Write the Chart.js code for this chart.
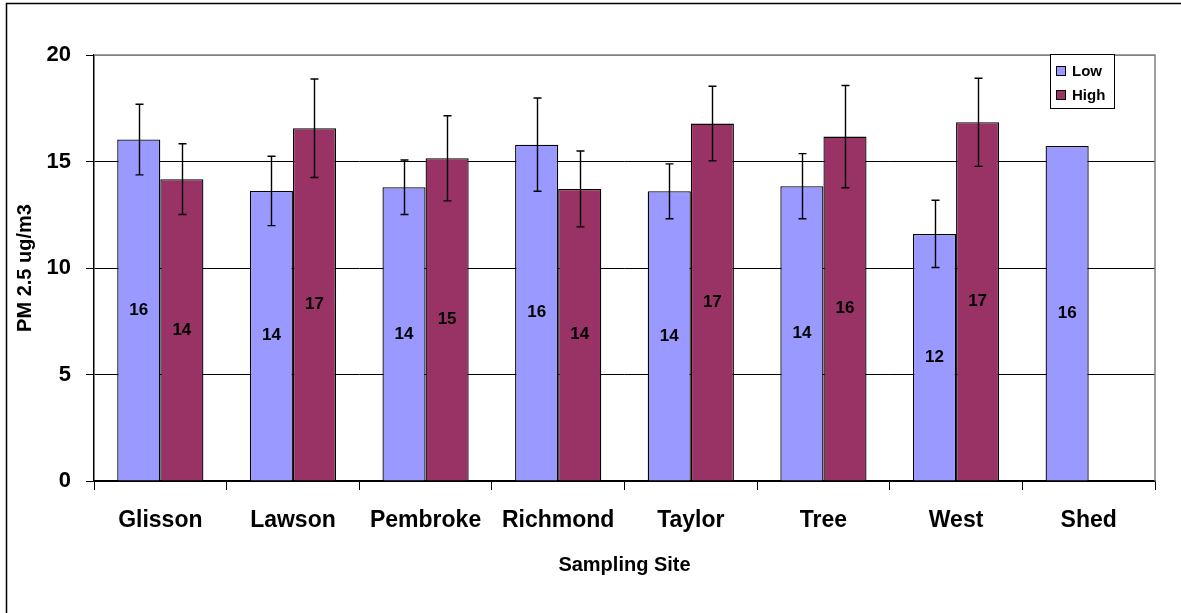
<!DOCTYPE html>
<html lang="en">
<head>
  <meta charset="UTF-8" />
  <title>PM 2.5 by Sampling Site</title>
  <script src="https://cdn.jsdelivr.net/npm/chart.js"></script>
  <style>
    html, body { margin: 0; padding: 0; background: #fff; }
    #wrap { position: relative; width: 1181px; height: 613px; }
  </style>
</head>
<body>
<div id="wrap"><canvas id="pmChart" width="1181" height="613"></canvas></div>

<script>
  const sites = ['Glisson', 'Lawson', 'Pembroke', 'Richmond', 'Taylor', 'Tree', 'West', 'Shed'];
  const lowValues  = [16.03, 13.62, 13.79, 15.79, 13.60, 13.84, 11.60, 15.73];
  const highValues = [14.17, 16.56, 15.15, 13.71, 16.78, 16.17, 16.84, null];
  const lowErrors  = [1.66, 1.63, 1.28, 2.19, 1.29, 1.53, 1.58, null];
  const highErrors = [1.66, 2.31, 2.00, 1.78, 1.75, 2.40, 2.07, null];
  const yTicks = [0, 5, 10, 15, 20];

  const FONT = "'Liberation Sans', Arial, sans-serif";
  const errorSets = [lowErrors, highErrors];

  // outer frame, grey plot outline
  const framePlugin = {
    id: 'frame',
    beforeDraw(chart) {
      const ctx = chart.ctx;
      ctx.save();
      ctx.fillStyle = '#fff';
      ctx.fillRect(0, 0, chart.width, chart.height);
      ctx.strokeStyle = '#000';
      ctx.lineWidth = 1.5;
      ctx.beginPath();
      ctx.moveTo(6.5, chart.height);
      ctx.lineTo(6.5, 3.5);
      ctx.lineTo(chart.width, 3.5);
      ctx.stroke();
      ctx.restore();
    },
    beforeDatasetsDraw(chart) {
      const {ctx, chartArea: a} = chart;
      ctx.save();
      ctx.strokeStyle = '#808080';
      ctx.lineWidth = 1.5;
      ctx.beginPath();
      ctx.moveTo(a.left, a.top);
      ctx.lineTo(a.right, a.top);
      ctx.lineTo(a.right, a.bottom);
      ctx.stroke();
      ctx.restore();
    }
  };

  // error bars + centred value labels + boxed legend
  const extrasPlugin = {
    id: 'extras',
    afterDatasetsDraw(chart) {
      const ctx = chart.ctx;
      const y = chart.scales.y;
      ctx.save();
      chart.data.datasets.forEach((ds, di) => {
        const meta = chart.getDatasetMeta(di);
        meta.data.forEach((bar, i) => {
          const v = ds.data[i];
          if (v == null) return;
          ctx.fillStyle = '#000';
          ctx.font = 'bold 17px ' + FONT;
          ctx.textAlign = 'center';
          ctx.textBaseline = 'middle';
          ctx.fillText(String(Math.round(v)), bar.x, (bar.y + bar.base) / 2);
        });
      });
      chart.data.datasets.forEach((ds, di) => {
        const meta = chart.getDatasetMeta(di);
        const errs = errorSets[di];
        meta.data.forEach((bar, i) => {
          const v = ds.data[i];
          const e = errs[i];
          if (v == null || e == null) return;
          const yt = y.getPixelForValue(v + e);
          const yb = y.getPixelForValue(v - e);
          const x = Math.round(bar.x) + 0.5;
          ctx.strokeStyle = '#000';
          ctx.lineWidth = 1.4;
          ctx.beginPath();
          ctx.moveTo(x, yt); ctx.lineTo(x, yb);
          ctx.moveTo(x - 4, yt); ctx.lineTo(x + 4, yt);
          ctx.moveTo(x - 4, yb); ctx.lineTo(x + 4, yb);
          ctx.stroke();
        });
      });
      ctx.restore();
    },
    afterDraw(chart) {
      const ctx = chart.ctx;
      const bx = 1050.5, by = 54.5, bw = 64, bh = 54;
      ctx.save();
      ctx.fillStyle = '#fff';
      ctx.fillRect(bx, by, bw, bh);
      ctx.strokeStyle = '#000';
      ctx.lineWidth = 1;
      ctx.strokeRect(bx, by, bw, bh);
      chart.data.datasets.forEach((ds, i) => {
        const cy = 71 + i * 24;
        ctx.fillStyle = ds.backgroundColor;
        ctx.fillRect(1056.5, cy - 4.5, 9, 9);
        ctx.strokeRect(1056.5, cy - 4.5, 9, 9);
        ctx.fillStyle = '#000';
        ctx.font = 'bold 15px ' + FONT;
        ctx.textAlign = 'left';
        ctx.textBaseline = 'middle';
        ctx.fillText(ds.label, 1072, cy + 1);
      });
      ctx.restore();
    }
  };

  new Chart(document.getElementById('pmChart'), {
    type: 'bar',
    data: {
      labels: sites,
      datasets: [
        { label: 'Low', data: lowValues, backgroundColor: '#9999FF', borderColor: '#000', borderWidth: 1.3 },
        { label: 'High', data: highValues, backgroundColor: '#993366', borderColor: '#000', borderWidth: 1.3 }
      ]
    },
    options: {
      responsive: false,
      animation: false,
      layout: { padding: { left: 6, right: 26, top: 55, bottom: 0 } },
      datasets: { bar: { categoryPercentage: 0.65, barPercentage: 1.0 } },
      plugins: { legend: { display: false }, tooltip: { enabled: false } },
      scales: {
        x: {
          afterFit(s) { s.height = 132; },
          grid: { offset: true, drawOnChartArea: false, drawTicks: true, tickLength: 9, tickColor: '#000' },
          border: { color: '#000', width: 1.5 },
          ticks: { color: '#000', font: { family: FONT, size: 23, weight: 'bold' }, padding: 17, maxRotation: 0 },
          title: { display: true, text: 'Sampling Site', color: '#000',
                   font: { family: FONT, size: 20, weight: 'bold' }, padding: { top: 0, bottom: 36 } }
        },
        y: {
          min: 0, max: 20,
          afterFit(s) { s.width = 88; },
          afterBuildTicks(s) { s.ticks = yTicks.map(v => ({ value: v })); },
          grid: {
            color: c => (c.tick && c.tick.value === 20) ? '#808080' : '#000',
            lineWidth: 1, tickLength: 8, tickColor: '#000'
          },
          border: { color: '#000', width: 1.5 },
          ticks: { color: '#000', font: { family: FONT, size: 22, weight: 'bold' }, padding: 15 },
          title: { display: true, text: 'PM 2.5 ug/m3', color: '#000',
                   font: { family: FONT, size: 20, weight: 'bold' }, padding: { top: 7, bottom: 0 } }
        }
      }
    },
    plugins: [framePlugin, extrasPlugin]
  });
</script>
</body>
</html>
